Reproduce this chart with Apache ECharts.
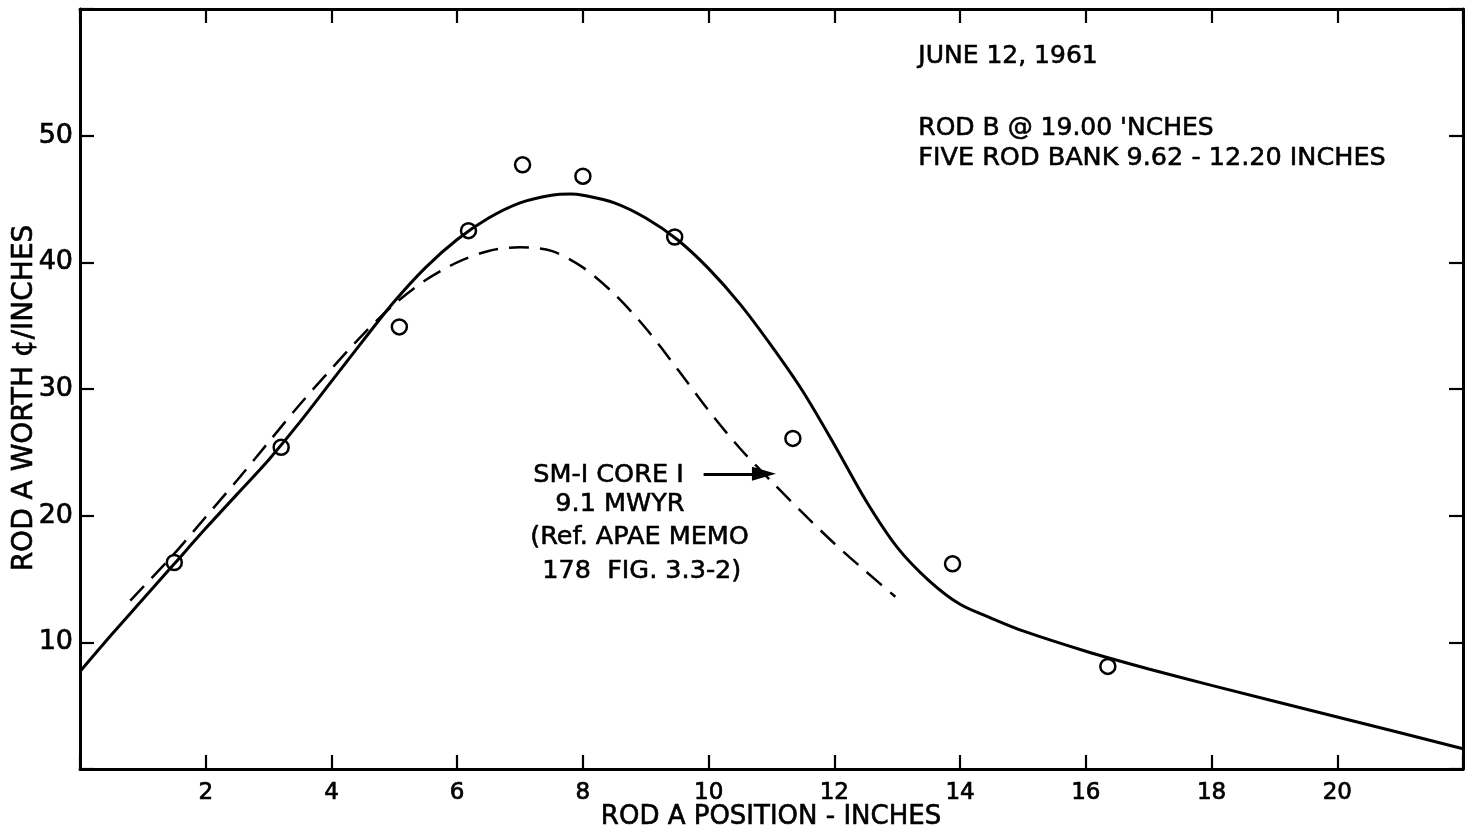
<!DOCTYPE html>
<html>
<head>
<meta charset="utf-8">
<script src="https://cdn.jsdelivr.net/npm/echarts@6/dist/echarts.min.js"></script>
<style>
  html, body { margin: 0; padding: 0; background: #fff; }
  #chart { width: 1477px; height: 834px; }
</style>
</head>
<body>
<div id="chart"></div>
<script>
// Rod A position (inches) vs. measured rod A worth (cents per inch)
const measuredX = [1.5, 3.2, 5.08, 6.18, 7.04, 8.0, 9.46, 11.34, 13.88, 16.35];
const measuredY = [16.3, 25.4, 34.9, 42.5, 47.7, 46.8, 42.0, 26.1, 16.2, 8.1];

// Faired curve through the June 12, 1961 measurements
const fitX = [0, 0.5, 1.0, 1.5, 2.0, 2.5, 3.0, 3.5, 4.0, 4.5, 5.0, 5.5, 6.0, 6.5, 7.0, 7.5, 7.8, 8.0, 8.5, 9.0, 9.5, 10.0, 10.5, 11.0, 11.5, 12.0, 12.5, 13.0, 13.5, 14.0, 14.5, 15.0, 16.0, 17.0, 18.0, 20.0, 22.0, 22.25];
const fitY = [7.7, 10.6, 13.4, 16.2, 19.0, 21.7, 24.4, 27.4, 30.6, 33.8, 36.9, 39.6, 41.8, 43.5, 44.7, 45.3, 45.4, 45.3, 44.7, 43.5, 41.8, 39.5, 36.7, 33.4, 29.8, 25.6, 21.2, 17.5, 14.9, 13.0, 11.9, 10.9, 9.3, 7.9, 6.6, 4.1, 1.6, 1.2];

// SM-1 Core I, 9.1 MWYR reference curve
const refX = [0.8, 1.5, 2.0, 2.5, 3.0, 3.5, 4.0, 4.5, 5.0, 5.5, 6.0, 6.5, 7.0, 7.5, 8.0, 8.5, 9.0, 9.5, 10.0, 10.5, 11.0, 11.5, 12.0, 12.5, 12.97];
const refY = [13.3, 17.0, 19.9, 22.8, 25.8, 28.8, 31.6, 34.3, 36.7, 38.6, 40.0, 40.9, 41.2, 40.9, 39.6, 37.5, 34.8, 31.6, 28.3, 25.3, 22.7, 20.2, 17.8, 15.6, 13.6];

// Arrow pointing at the reference curve (x from, x to, y)
const arrowX = [9.92, 10.88];
const arrowY = 23.3;

// Tick labels
const xTickLabels = [2, 4, 6, 8, 10, 12, 14, 16, 18, 20];
const yTickLabels = [10, 20, 30, 40, 50];

const pairs = (xs, ys) => xs.map((x, i) => [x, ys[i]]);

const FONT = "'DejaVu Sans', 'Liberation Sans', sans-serif";
const INK = '#000';

const chart = echarts.init(document.getElementById('chart'), null, { renderer: 'canvas' });

const axisLine = { show: true, onZero: false, lineStyle: { color: INK, width: 3 } };
const axisTick = { show: true, inside: true, length: 14, lineStyle: { color: INK, width: 2.2 } };
const labelInk = { color: INK, fontFamily: FONT, textBorderColor: INK, textBorderWidth: 0.7 };

// Lettering helper for the free-standing notes
const note = (text, left, top, size) => ({
  type: 'text', left, top,
  style: { text, font: `${size}px ${FONT}`, fill: INK, stroke: INK, lineWidth: 0.6 }
});

chart.setOption({
  backgroundColor: '#fff',
  animation: false,
  grid: { left: 80, right: 14, top: 9, bottom: 65, containLabel: false },
  xAxis: [
    {
      type: 'value', position: 'bottom', min: 0, max: 22, interval: 2,
      axisLine, axisTick, splitLine: { show: false },
      axisLabel: {
        ...labelInk, fontSize: 23, margin: 13,
        formatter: v => (xTickLabels.includes(v) ? String(v) : '')
      }
    },
    {
      type: 'value', position: 'top', min: 0, max: 22, interval: 2,
      axisLine, axisTick, splitLine: { show: false }, axisLabel: { show: false }
    }
  ],
  yAxis: [
    {
      type: 'value', position: 'left', min: 0, max: 60, interval: 10,
      axisLine, axisTick, splitLine: { show: false },
      axisLabel: {
        ...labelInk, fontSize: 27, margin: 7,
        formatter: v => (yTickLabels.includes(v) ? String(v) : '')
      }
    },
    {
      type: 'value', position: 'right', min: 0, max: 60, interval: 10,
      axisLine, axisTick, splitLine: { show: false }, axisLabel: { show: false }
    }
  ],
  series: [
    {
      name: 'June 12, 1961', type: 'line', data: pairs(fitX, fitY),
      smooth: 0.3, showSymbol: false, clip: false,
      lineStyle: { color: INK, width: 3 }
    },
    {
      name: 'SM-1 Core I', type: 'line', data: pairs(refX, refY),
      smooth: 0.3, showSymbol: false,
      lineStyle: { color: INK, width: 2.5, type: [20, 11] },
      markLine: {
        silent: true, symbol: ['none', 'triangle'], symbolSize: [14, 24],
        label: { show: false },
        lineStyle: { color: INK, width: 3, type: 'solid' },
        data: [[{ coord: [arrowX[0], arrowY] }, { coord: [arrowX[1], arrowY] }]]
      }
    },
    {
      name: 'Measured', type: 'scatter', data: pairs(measuredX, measuredY),
      symbol: 'circle', symbolSize: 15,
      itemStyle: { color: 'rgba(255,255,255,0)', borderColor: INK, borderWidth: 2.5, opacity: 1 }
    }
  ],
  graphic: [
    note('JUNE 12, 1961', 918, 44, 25),
    note("ROD B @ 19.00 'NCHES", 918, 116, 25),
    note('FIVE ROD BANK 9.62 - 12.20 INCHES', 918, 145, 25.5),
    note('SM-I CORE I', 533, 462, 25.5),
    note('9.1 MWYR', 555, 491, 25.5),
    note('(Ref. APAE MEMO', 530, 524, 25.5),
    note('178  FIG. 3.3-2)', 542, 558, 25.5),
    {
      type: 'text', x: 771, y: 817,
      style: { text: 'ROD A POSITION - INCHES', font: `26px ${FONT}`, fill: INK, stroke: INK, lineWidth: 0.6, align: 'center', verticalAlign: 'middle' }
    },
    {
      type: 'text', x: 25, y: 398, rotation: Math.PI / 2,
      style: { text: 'ROD A WORTH ¢/INCHES', font: `28px ${FONT}`, fill: INK, stroke: INK, lineWidth: 0.6, align: 'center', verticalAlign: 'middle' }
    }
  ]
});
</script>
</body>
</html>
